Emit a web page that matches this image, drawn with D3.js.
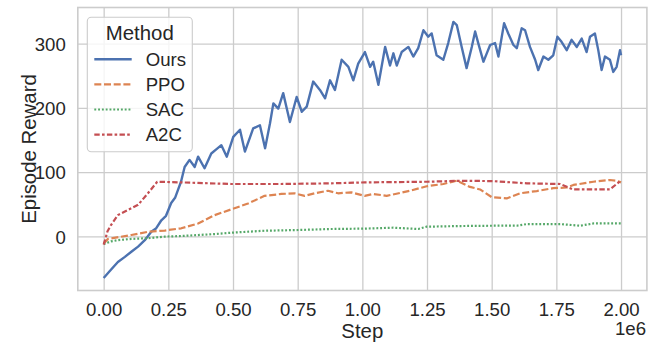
<!DOCTYPE html>
<html>
<head>
<meta charset="utf-8">
<script src="https://cdn.jsdelivr.net/npm/d3@7"></script>
<style>
  html, body { margin: 0; padding: 0; background: #ffffff; }
  svg { display: block; }
  text { font-family: "Liberation Sans", Arial, sans-serif; fill: #262626; }
</style>
</head>
<body>
<svg id="chart" width="657" height="343"></svg>
<script>
// ---------- data (steps in units of 1e6) ----------
const methods = ["Ours", "PPO", "SAC", "A2C"];
const colors = ["#4c72b0", "#dd8452", "#55a868", "#c44e52"];

const oursSteps = [0, 0.028, 0.055, 0.082, 0.107, 0.133, 0.159, 0.184, 0.202, 0.223,
  0.241, 0.261, 0.276, 0.287, 0.299, 0.313, 0.332, 0.352, 0.365, 0.390,
  0.416, 0.434, 0.455, 0.476, 0.501, 0.527, 0.546, 0.578, 0.604, 0.624,
  0.643, 0.656, 0.675, 0.694, 0.720, 0.746, 0.766, 0.785, 0.810, 0.836,
  0.856, 0.875, 0.894, 0.920, 0.946, 0.965, 0.984, 1.010, 1.030, 1.042,
  1.062, 1.088, 1.107, 1.120, 1.133, 1.152, 1.178, 1.197, 1.216, 1.236,
  1.255, 1.268, 1.287, 1.313, 1.332, 1.352, 1.365, 1.384, 1.403, 1.423,
  1.436, 1.448, 1.468, 1.481, 1.494, 1.513, 1.526, 1.548, 1.564, 1.584,
  1.597, 1.616, 1.629, 1.648, 1.668, 1.680, 1.700, 1.719, 1.738, 1.754,
  1.770, 1.790, 1.809, 1.829, 1.848, 1.867, 1.880, 1.899, 1.912, 1.925,
  1.938, 1.957, 1.970, 1.983, 1.996, 2.000];
const oursReward = [-65, -52, -40, -32, -24, -16, -6, 7, 12, 25,
  32, 52, 60, 72, 85, 108, 119, 108, 124, 106,
  129, 135, 142, 124, 155, 166, 132, 168, 173, 137,
  176, 207, 199, 223, 178, 217, 194, 202, 241, 228,
  215, 243, 228, 275, 264, 243, 269, 287, 264, 272,
  236, 295, 266, 285, 266, 287, 295, 280, 293, 321,
  311, 316, 282, 275, 301, 334, 329, 295, 262, 295,
  319, 301, 272, 285, 298, 301, 280, 332, 316, 298,
  293, 324, 321, 295, 275, 259, 280, 275, 282, 311,
  303, 290, 306, 295, 308, 287, 311, 316, 290, 259,
  280, 275, 256, 264, 290, 282];

const ppoSteps = [0, 0.017, 0.107, 0.171, 0.236, 0.300, 0.365, 0.429, 0.493, 0.558,
  0.622, 0.687, 0.738, 0.777, 0.816, 0.867, 0.906, 0.957, 1.009, 1.042,
  1.094, 1.184, 1.249, 1.313, 1.365, 1.416, 1.455, 1.500, 1.558, 1.610,
  1.674, 1.738, 1.790, 1.816, 1.893, 1.957, 1.983, 2.000];
const ppoReward = [-11, -4, 2, 7, 9, 12.5, 20, 33, 42, 51,
  63, 66, 67, 63, 67, 71, 67, 68.5, 63, 66,
  63, 71, 78, 81.5, 86.6, 77, 73, 61, 59, 67,
  70.5, 75, 76, 80, 85, 87.7, 86.6, 84];

const sacSteps = [0, 0.028, 0.055, 0.107, 0.171, 0.236, 0.300, 0.365, 0.429, 0.493,
  0.622, 0.751, 0.880, 1.009, 1.120, 1.216, 1.249, 1.378, 1.506, 1.597,
  1.635, 1.765, 1.842, 1.893, 2.000];
const sacReward = [-12, -8, -6, -4, -3, -0.5, 0.5, 2, 3.5, 5.6,
  8.7, 9.8, 11.4, 12, 13.4, 11.4, 15, 16, 16.5, 16.5,
  19, 19, 16.5, 20, 20];

const a2cSteps = [0, 0.015, 0.029, 0.055, 0.094, 0.133, 0.171, 0.207, 0.299, 0.492,
  0.685, 0.879, 1.010, 1.250, 1.378, 1.505, 1.636, 1.765, 1.815, 1.957, 2.000];
const a2cReward = [-13, 8, 18, 33, 41, 49, 67, 85, 84, 81.5,
  81.5, 82.5, 84, 85, 86.5, 86, 82.5, 81.5, 73, 73, 87];

const xTickValues = [0, 0.25, 0.5, 0.75, 1.0, 1.25, 1.5, 1.75, 2.0];
const xTickLabels = ["0.00", "0.25", "0.50", "0.75", "1.00", "1.25", "1.50", "1.75", "2.00"];
const yTickValues = [0, 100, 200, 300];
const yTickLabels = ["0", "100", "200", "300"];

// ---------- layout ----------
const svg = d3.select("#chart");
const L = 77.8, R = 646.9, T = 7.5, B = 290.5;
const x = d3.scaleLinear().domain([-0.1, 2.1]).range([L, R]);
const y = d3.scaleLinear().domain([-84.4, 356.4]).range([B, T]);

const gridColor = "#cccccc";
const tickFont = "18.6px";
const labelFont = "20.4px";

// grid
const gx = svg.append("g").attr("transform", `translate(0,${B})`)
  .call(d3.axisBottom(x).tickValues(xTickValues).tickSize(-(B - T)).tickPadding(12.5)
    .tickFormat((d, i) => xTickLabels[i]));
gx.select(".domain").remove();
gx.selectAll(".tick line").attr("stroke", gridColor).attr("stroke-width", 1.3);
gx.selectAll(".tick text").style("font-size", tickFont).attr("fill", "#262626")
  .attr("font-family", "Liberation Sans, Arial, sans-serif");

const gy = svg.append("g").attr("transform", `translate(${L},0)`)
  .call(d3.axisLeft(y).tickValues(yTickValues).tickSize(-(R - L)).tickPadding(12)
    .tickFormat((d, i) => yTickLabels[i]));
gy.select(".domain").remove();
gy.selectAll(".tick line").attr("stroke", gridColor).attr("stroke-width", 1.3);
gy.selectAll(".tick text").style("font-size", tickFont).attr("fill", "#262626")
  .attr("dy", "0.36em")
  .attr("font-family", "Liberation Sans, Arial, sans-serif");

// spines
svg.append("rect").attr("x", L).attr("y", T).attr("width", R - L).attr("height", B - T)
  .attr("fill", "none").attr("stroke", gridColor).attr("stroke-width", 1.6);

// lines
const series = [
  { name: "Ours", steps: oursSteps, vals: oursReward, dash: null, w: 2.4 },
  { name: "PPO", steps: ppoSteps, vals: ppoReward, dash: "7,2.7", w: 2.2 },
  { name: "SAC", steps: sacSteps, vals: sacReward, dash: "1.9,1.9", w: 2.2 },
  { name: "A2C", steps: a2cSteps, vals: a2cReward, dash: "5.4,2.3,2.6,2.3", w: 2.2 }
];
const line = d3.line().x(d => x(d[0])).y(d => y(d[1]));
series.forEach((s, i) => {
  const pts = s.steps.map((st, k) => [st, s.vals[k]]);
  svg.append("path").datum(pts)
    .attr("d", line)
    .attr("fill", "none")
    .attr("stroke", colors[i])
    .attr("stroke-width", s.w)
    .attr("stroke-linejoin", "round")
    .attr("stroke-dasharray", s.dash);
});

// axis labels
svg.append("text").attr("x", (L + R) / 2).attr("y", 337.5)
  .attr("text-anchor", "middle").style("font-size", labelFont).text("Step");
svg.append("text").attr("transform", `translate(35.5,${(T + B) / 2}) rotate(-90)`)
  .attr("text-anchor", "middle").style("font-size", labelFont).text("Episode Reward");
svg.append("text").attr("x", 646).attr("y", 335)
  .attr("text-anchor", "end").style("font-size", tickFont).text("1e6");

// legend
const lg = svg.append("g");
lg.append("rect").attr("x", 87.3).attr("y", 17.3).attr("width", 105).attr("height", 134.4)
  .attr("rx", 4).attr("fill", "#ffffff").attr("fill-opacity", 0.8)
  .attr("stroke", "#cccccc").attr("stroke-width", 1.1);
lg.append("text").attr("x", 139.8).attr("y", 39.5).attr("text-anchor", "middle")
  .style("font-size", labelFont).text("Method");
const legendY = [59.3, 84.4, 109.5, 134.6];
series.forEach((s, i) => {
  lg.append("line").attr("x1", 94.3).attr("x2", 131.7)
    .attr("y1", legendY[i]).attr("y2", legendY[i])
    .attr("stroke", colors[i]).attr("stroke-width", s.w)
    .attr("stroke-dasharray", s.dash);
  lg.append("text").attr("x", 145.7).attr("y", legendY[i] + 6.6)
    .style("font-size", tickFont).text(methods[i]);
});
</script>
</body>
</html>
